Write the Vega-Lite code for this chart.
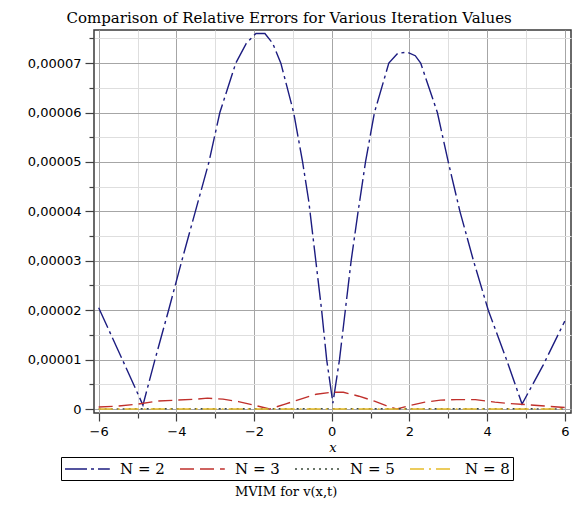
{
  "$schema": "https://vega.github.io/schema/vega-lite/v6.json",
  "background": "white",
  "padding": {"left": 26, "top": 10, "right": 2, "bottom": 4},
  "title": {"text": "MVIM for v(x,t)", "orient": "bottom", "anchor": "middle", "frame": "bounds", "font": "DejaVu Serif", "fontSize": 13, "fontWeight": "normal", "color": "black", "offset": 5, "dx": -13},
  "config": {
    "view": {"stroke": "#3a3a3a", "strokeWidth": 1.5},
    "concat": {"spacing": 0},
    "axis": {"domain": false, "labelFont": "DejaVu Sans", "labelFontSize": 13, "labelColor": "black", "tickColor": "#404040", "titleFont": "DejaVu Serif", "titleFontStyle": "italic", "titleFontWeight": "normal", "titleFontSize": 13, "titleColor": "black"},
    "legend": {"labelFont": "DejaVu Serif", "labelFontSize": 15, "labelColor": "black"}
  },
  "datasets": {
    "curves": [
      {"N": "N = 2", "x": -6.0, "v": 2.05e-5},
      {"N": "N = 2", "x": -5.43, "v": 1.07e-5},
      {"N": "N = 2", "x": -4.86, "v": 0.08e-5},
      {"N": "N = 2", "x": -4.55, "v": 1.0e-5},
      {"N": "N = 2", "x": -4.2, "v": 2.0e-5},
      {"N": "N = 2", "x": -3.86, "v": 3.0e-5},
      {"N": "N = 2", "x": -3.51, "v": 4.0e-5},
      {"N": "N = 2", "x": -3.16, "v": 5.0e-5},
      {"N": "N = 2", "x": -2.88, "v": 6.0e-5},
      {"N": "N = 2", "x": -2.47, "v": 7.0e-5},
      {"N": "N = 2", "x": -2.2, "v": 7.4e-5},
      {"N": "N = 2", "x": -1.95, "v": 7.6e-5},
      {"N": "N = 2", "x": -1.72, "v": 7.6e-5},
      {"N": "N = 2", "x": -1.52, "v": 7.4e-5},
      {"N": "N = 2", "x": -1.31, "v": 7.0e-5},
      {"N": "N = 2", "x": -0.98, "v": 6.0e-5},
      {"N": "N = 2", "x": -0.75, "v": 5.0e-5},
      {"N": "N = 2", "x": -0.59, "v": 4.2e-5},
      {"N": "N = 2", "x": -0.41, "v": 3.0e-5},
      {"N": "N = 2", "x": -0.26, "v": 2.0e-5},
      {"N": "N = 2", "x": -0.13, "v": 1.0e-5},
      {"N": "N = 2", "x": 0.03, "v": 0.12e-5},
      {"N": "N = 2", "x": 0.2, "v": 1.0e-5},
      {"N": "N = 2", "x": 0.35, "v": 2.0e-5},
      {"N": "N = 2", "x": 0.5, "v": 3.0e-5},
      {"N": "N = 2", "x": 0.68, "v": 4.0e-5},
      {"N": "N = 2", "x": 0.87, "v": 5.0e-5},
      {"N": "N = 2", "x": 1.1, "v": 6.0e-5},
      {"N": "N = 2", "x": 1.47, "v": 7.0e-5},
      {"N": "N = 2", "x": 1.7, "v": 7.2e-5},
      {"N": "N = 2", "x": 1.95, "v": 7.22e-5},
      {"N": "N = 2", "x": 2.15, "v": 7.15e-5},
      {"N": "N = 2", "x": 2.29, "v": 7.0e-5},
      {"N": "N = 2", "x": 2.72, "v": 6.0e-5},
      {"N": "N = 2", "x": 3.0, "v": 5.0e-5},
      {"N": "N = 2", "x": 3.3, "v": 4.0e-5},
      {"N": "N = 2", "x": 3.65, "v": 3.0e-5},
      {"N": "N = 2", "x": 4.03, "v": 2.0e-5},
      {"N": "N = 2", "x": 4.5, "v": 1.0e-5},
      {"N": "N = 2", "x": 4.9, "v": 0.1e-5},
      {"N": "N = 2", "x": 5.45, "v": 0.9e-5},
      {"N": "N = 2", "x": 6.0, "v": 1.78e-5},
      {"N": "N = 3", "x": -6.0, "v": 0.04e-5},
      {"N": "N = 3", "x": -5.5, "v": 0.06e-5},
      {"N": "N = 3", "x": -5.0, "v": 0.1e-5},
      {"N": "N = 3", "x": -4.5, "v": 0.16e-5},
      {"N": "N = 3", "x": -4.0, "v": 0.18e-5},
      {"N": "N = 3", "x": -3.5, "v": 0.2e-5},
      {"N": "N = 3", "x": -3.2, "v": 0.22e-5},
      {"N": "N = 3", "x": -2.8, "v": 0.2e-5},
      {"N": "N = 3", "x": -2.4, "v": 0.15e-5},
      {"N": "N = 3", "x": -2.0, "v": 0.08e-5},
      {"N": "N = 3", "x": -1.6, "v": 0.0},
      {"N": "N = 3", "x": -1.2, "v": 0.1e-5},
      {"N": "N = 3", "x": -0.8, "v": 0.2e-5},
      {"N": "N = 3", "x": -0.4, "v": 0.3e-5},
      {"N": "N = 3", "x": 0.0, "v": 0.34e-5},
      {"N": "N = 3", "x": 0.3, "v": 0.34e-5},
      {"N": "N = 3", "x": 0.7, "v": 0.26e-5},
      {"N": "N = 3", "x": 1.1, "v": 0.16e-5},
      {"N": "N = 3", "x": 1.4, "v": 0.07e-5},
      {"N": "N = 3", "x": 1.68, "v": 0.0},
      {"N": "N = 3", "x": 2.0, "v": 0.07e-5},
      {"N": "N = 3", "x": 2.4, "v": 0.14e-5},
      {"N": "N = 3", "x": 2.8, "v": 0.18e-5},
      {"N": "N = 3", "x": 3.2, "v": 0.19e-5},
      {"N": "N = 3", "x": 3.7, "v": 0.19e-5},
      {"N": "N = 3", "x": 4.2, "v": 0.14e-5},
      {"N": "N = 3", "x": 4.6, "v": 0.11e-5},
      {"N": "N = 3", "x": 5.0, "v": 0.09e-5},
      {"N": "N = 3", "x": 5.5, "v": 0.06e-5},
      {"N": "N = 3", "x": 6.0, "v": 0.03e-5},
      {"N": "N = 5", "x": -6.0, "v": 0.004e-5},
      {"N": "N = 5", "x": -3.0, "v": 0.006e-5},
      {"N": "N = 5", "x": 0.0, "v": 0.008e-5},
      {"N": "N = 5", "x": 3.0, "v": 0.006e-5},
      {"N": "N = 5", "x": 6.0, "v": 0.004e-5},
      {"N": "N = 8", "x": -6.0, "v": 0.0},
      {"N": "N = 8", "x": -3.0, "v": 0.0},
      {"N": "N = 8", "x": 0.0, "v": 0.0},
      {"N": "N = 8", "x": 3.0, "v": 0.0},
      {"N": "N = 8", "x": 6.0, "v": 0.0}
    ]
  },
  "vconcat": [
    {
      "title": {"text": "Comparison of Relative Errors for Various Iteration Values", "anchor": "middle", "frame": "bounds", "font": "DejaVu Serif", "fontSize": 15, "fontWeight": "normal", "color": "black", "offset": 4, "dx": -10},
      "width": 477,
      "height": 383,
      "data": {"name": "curves"},
      "mark": {"type": "line", "strokeWidth": 1.4, "clip": true},
      "encoding": {
        "x": {
          "field": "x", "type": "quantitative",
          "scale": {"domain": [-6.12, 6.16], "nice": false, "zero": false},
          "axis": {
            "title": "x", "titlePadding": 3,
            "values": [-6, -5, -4, -3, -2, -1, 0, 1, 2, 3, 4, 5, 6],
            "labelExpr": "datum.value % 2 == 0 ? datum.label : ''",
            "labelPadding": 4,
            "grid": true,
            "gridColor": {"condition": {"test": "datum.value % 2 == 0", "value": "#a6a6a6"}, "value": "#dedede"},
            "tickSize": {"condition": {"test": "datum.value % 2 == 0", "value": 8}, "value": 5},
            "tickWidth": 1.2
          }
        },
        "y": {
          "field": "v", "type": "quantitative",
          "scale": {"domain": [-0.0000008, 0.0000767], "nice": false, "zero": false},
          "axis": {
            "title": null,
            "values": [0, 0.000005, 0.00001, 0.000015, 0.00002, 0.000025, 0.00003, 0.000035, 0.00004, 0.000045, 0.00005, 0.000055, 0.00006, 0.000065, 0.00007, 0.000075],
            "labelExpr": "abs(datum.value*1e5 - round(datum.value*1e5)) < 0.01 ? (datum.value == 0 ? '0' : replace(format(datum.value, '.5f'), '.', ',')) : ''",
            "labelPadding": 4,
            "labelOverlap": false,
            "grid": true,
            "gridColor": {"condition": {"test": "abs(datum.value*1e5 - round(datum.value*1e5)) < 0.01", "value": "#a6a6a6"}, "value": "#dedede"},
            "tickSize": {"condition": {"test": "abs(datum.value*1e5 - round(datum.value*1e5)) < 0.01", "value": 9}, "value": 5},
            "tickWidth": 1.2
          }
        },
        "color": {
          "field": "N", "type": "nominal",
          "scale": {"domain": ["N = 2", "N = 3", "N = 5", "N = 8"], "range": ["#1c1c80", "#c0302c", "#3a4a3a", "#e6bc28"]},
          "legend": {
            "title": null, "orient": "none", "legendX": -33, "legendY": 427, "direction": "horizontal",
            "strokeColor": "black", "padding": 3,
            "symbolType": "M-1,0H4.6", "symbolSize": 256, "symbolStrokeWidth": 1.4,
            "labelOffset": 38, "columnPadding": 12
          }
        },
        "strokeDash": {
          "field": "N", "type": "nominal",
          "scale": {"domain": ["N = 2", "N = 3", "N = 5", "N = 8"], "range": [[22, 4, 3, 4], [14, 6], [2, 4], [14, 5, 2, 5]]},
          "legend": {
            "title": null, "orient": "none", "legendX": -33, "legendY": 427, "direction": "horizontal",
            "strokeColor": "black", "padding": 3,
            "symbolType": "M-1,0H4.6", "symbolSize": 256, "symbolStrokeWidth": 1.4,
            "labelOffset": 38, "columnPadding": 12
          }
        }
      }
    }
  ]
}
